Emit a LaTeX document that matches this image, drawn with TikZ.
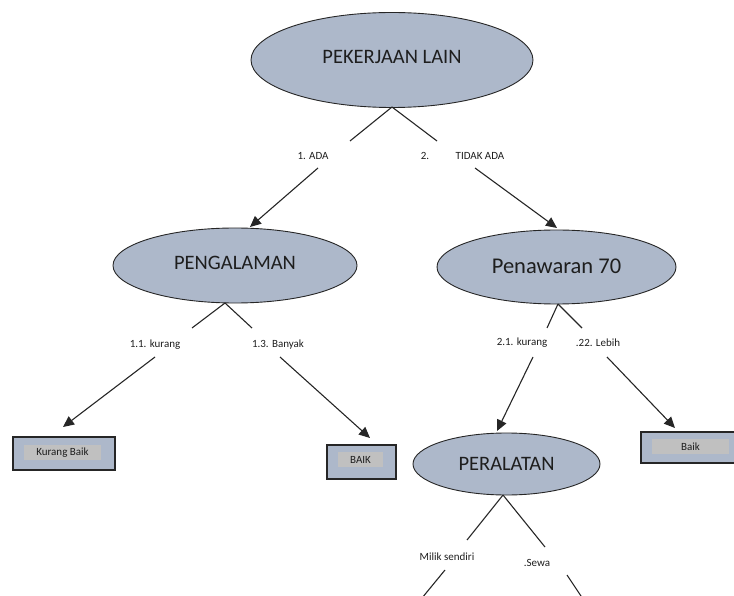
\documentclass[tikz,border=0pt]{standalone}
\usepackage{fontspec}
\setmainfont{Carlito}
\usetikzlibrary{shapes.geometric,arrows.meta}
\definecolor{nodefill}{RGB}{173,184,202}
\definecolor{tagfill}{RGB}{192,192,192}
\definecolor{inktext}{RGB}{30,30,30}
\tikzset{
  decision/.style={ellipse,draw=black!85,line width=0.9pt,fill=nodefill,inner sep=0pt,text=inktext,font=\fontsize{20.5}{22}\selectfont},
  leafbox/.style={rectangle,draw=black!85,line width=1.1pt,fill=nodefill,inner sep=0pt},
  leaftag/.style={rectangle,fill=tagfill,inner sep=0pt,text=inktext,font=\fontsize{11}{12}\selectfont},
  branch/.style={font=\fontsize{11}{12}\selectfont,text=inktext,inner sep=1pt},
  link/.style={line width=1.1pt,draw=black!85},
  arrowlink/.style={link,-{Triangle[length=11pt,width=10pt]}}
}
\begin{document}
\begin{tikzpicture}[x=1pt,y=-1pt]
\useasboundingbox (0,0) rectangle (734,596);

% decision nodes
\node[decision,minimum width=282,minimum height=95] (root) at (392,60) {\raisebox{7pt}{PEKERJAAN LAIN}};
\node[decision,minimum width=244,minimum height=75] (peng) at (235,265.5) {\raisebox{5pt}{PENGALAMAN}};
\node[decision,minimum width=239,minimum height=74,font=\fontsize{22.5}{24}\selectfont] (pen) at (556.5,267) {\raisebox{2pt}{Penawaran 70}};
\node[decision,minimum width=187,minimum height=62] (peral) at (506.5,464) {\raisebox{1pt}{PERALATAN}};

% leaf boxes
\node[leafbox,minimum width=102,minimum height=33] (kbbox) at (64,453.5) {};
\node[leaftag,minimum width=77,minimum height=15] (kb) at (62.5,452.5) {Kurang Baik};
\node[leafbox,minimum width=69,minimum height=34] (baikbox) at (361.5,462) {};
\node[leaftag,minimum width=45,minimum height=15] (baik) at (360.5,459.5) {BAIK};
\node[leafbox,minimum width=97,minimum height=31] (bkbox) at (689.5,447.5) {};
\node[leaftag,minimum width=77,minimum height=15] (bk) at (690.5,446.5) {Baik};

% branch labels
\node[branch] (ada) at (313,156) {1. ADA};
\node[branch] (two) at (425,156) {2.};
\node[branch] (tidak) at (480,156) {TIDAK ADA};
\node[branch] (kur1) at (155,345) {1.1. kurang};
\node[branch] (ban) at (278,345) {1.3. Banyak};
\node[branch] (kur2) at (522,343) {2.1. kurang};
\node[branch] (leb) at (598,343) {.22. Lebih};
\node[branch] (milik) at (447,557) {Milik sendiri};
\node[branch] (sewa) at (537,563) {.Sewa};

% break points of the branches
\coordinate (r0) at (392,107);
\coordinate (r1) at (350,141);
\coordinate (r2) at (437,141);
\coordinate (r3) at (318,168);
\coordinate (r4) at (250,227);
\coordinate (r5) at (475,168);
\coordinate (r6) at (557,228);

\coordinate (p0) at (225,303);
\coordinate (p1) at (192,328);
\coordinate (p2) at (252,328);
\coordinate (p3) at (155,357);
\coordinate (p4) at (63,427);
\coordinate (p5) at (280,357);
\coordinate (p6) at (370,438);

\coordinate (q0) at (558,304);
\coordinate (q1) at (547,328);
\coordinate (q2) at (582,328);
\coordinate (q3) at (533,357);
\coordinate (q4) at (497,431);
\coordinate (q5) at (607,357);
\coordinate (q6) at (675,428);

\coordinate (s0) at (503,495);
\coordinate (s1) at (467,540);
\coordinate (s2) at (545,547);
\coordinate (s3) at (445,570);
\coordinate (s4) at (422,598);
\coordinate (s5) at (567,575);
\coordinate (s6) at (583,599);

% branches
\draw[link] (r0) -- (r1);
\draw[link] (r0) -- (r2);
\draw[arrowlink] (r3) -- (r4);
\draw[arrowlink] (r5) -- (r6);

\draw[link] (p0) -- (p1);
\draw[link] (p0) -- (p2);
\draw[arrowlink] (p3) -- (p4);
\draw[arrowlink] (p5) -- (p6);

\draw[link] (q0) -- (q1);
\draw[link] (q0) -- (q2);
\draw[arrowlink] (q3) -- (q4);
\draw[arrowlink] (q5) -- (q6);

\draw[link] (s0) -- (s1);
\draw[link] (s0) -- (s2);
\draw[link] (s3) -- (s4);
\draw[link] (s5) -- (s6);
\end{tikzpicture}
\end{document}
